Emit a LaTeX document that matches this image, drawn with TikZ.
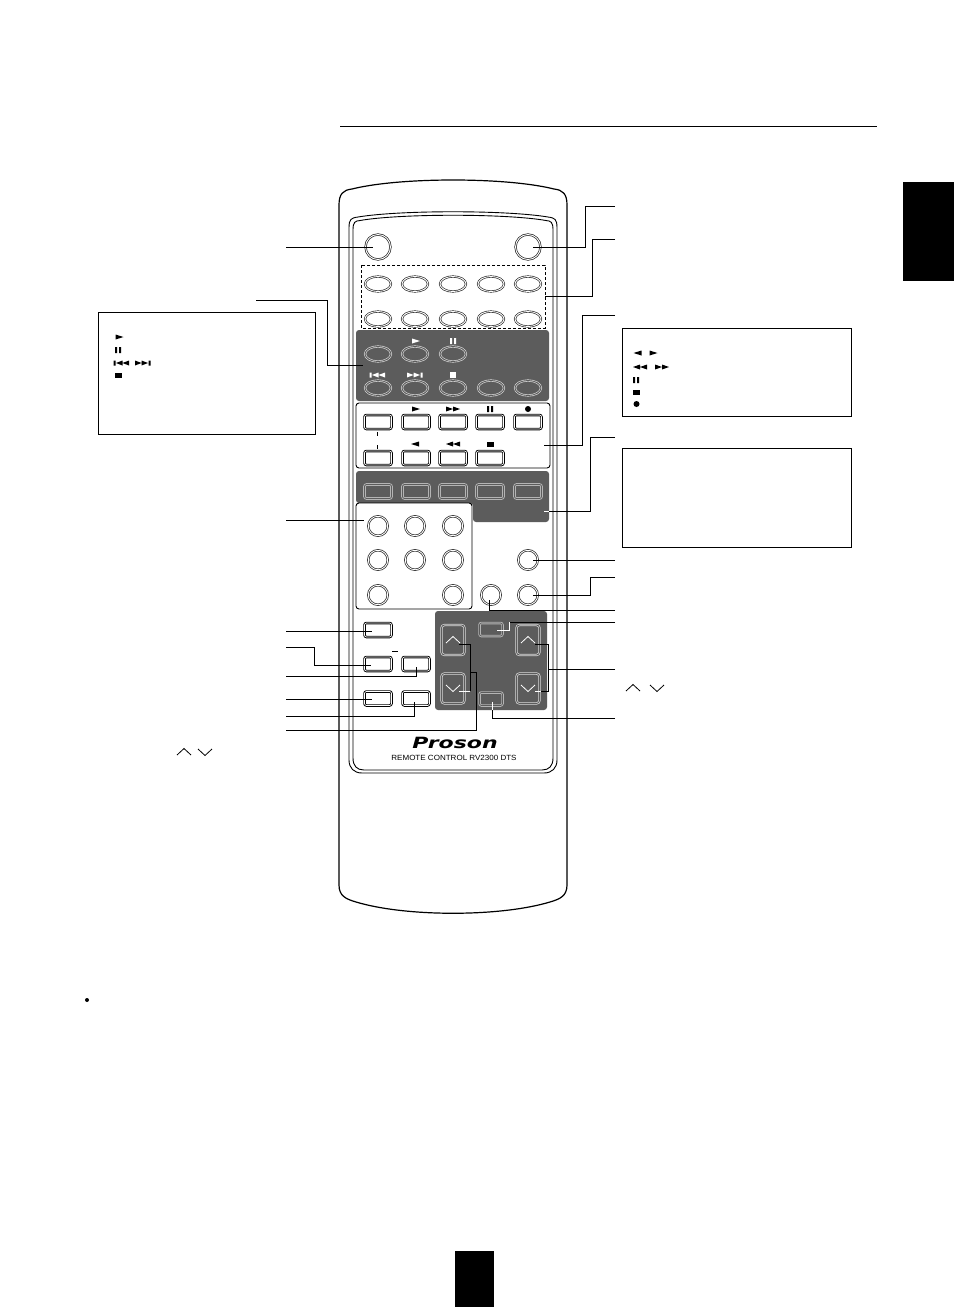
\documentclass[tikz,border=0pt]{standalone}
\usepackage{fontspec}
\setmainfont{Liberation Sans}
\newfontfamily\logofont{DejaVu Sans}
\definecolor{panel}{HTML}{5C5C5C}
\definecolor{bgray}{HTML}{B4B4B4}
\usetikzlibrary{shapes.geometric}
\tikzset{
  x=1pt,y=-1pt,
  shell/.style={draw=black,line width=1.2pt,fill=white},
  leader/.style={draw=black,line width=1pt},
  leaderw/.style={draw=white,line width=1pt},
  darkpanel/.style={fill=panel,draw=none,rounded corners=3pt},
  whitepanel/.style={fill=white,draw=black,line width=0.9pt,rounded corners=3pt},
  infobox/.style={draw=black,line width=0.9pt,fill=white},
  ovalk/.style={ellipse,draw=black!85,line width=0.65pt,double=white,double distance=0.9pt,minimum width=26pt,minimum height=15pt,inner sep=0pt},
  ovalw/.style={ellipse,draw=white!85!black,line width=0.65pt,double=panel,double distance=0.9pt,minimum width=26pt,minimum height=15pt,inner sep=0pt},
  roundb/.style={circle,draw=black!85,line width=0.7pt,double=white,double distance=0.9pt,minimum size=#1,inner sep=0pt},
  rectb/.style={rectangle,rounded corners=2pt,draw=black,line width=0.9pt,double=white,double distance=0.7pt,minimum width=27pt,minimum height=14pt,inner sep=0pt},
  rectw/.style={rectangle,rounded corners=2pt,draw=bgray,line width=0.9pt,double=panel,double distance=0.8pt,minimum width=27pt,minimum height=14pt,inner sep=0pt},
  arrowb/.style={rectangle,rounded corners=3pt,draw=white!85!black,line width=0.7pt,double=panel,double distance=0.9pt,minimum width=23pt,minimum height=30pt,inner sep=0pt},
  smallb/.style={rectangle,rounded corners=2pt,draw=bgray,line width=0.9pt,double=panel,double distance=0.7pt,minimum width=23pt,minimum height=13pt,inner sep=0pt},
  chev/.style={draw=#1,line width=0.8pt},
}
\newcommand{\symPlay}[3]{\fill[#3] (#1-4,#2-2.5) -- (#1+4,#2) -- (#1-4,#2+2.5) -- cycle;}
\newcommand{\symRew}[3]{\fill[#3] (#1+4,#2-2.5) -- (#1-4,#2) -- (#1+4,#2+2.5) -- cycle;}
\newcommand{\symFF}[3]{\fill[#3] (#1-7,#2-2.5) -- (#1,#2) -- (#1-7,#2+2.5) -- cycle (#1,#2-2.5) -- (#1+7,#2) -- (#1,#2+2.5) -- cycle;}
\newcommand{\symFR}[3]{\fill[#3] (#1+7,#2-2.5) -- (#1,#2) -- (#1+7,#2+2.5) -- cycle (#1,#2-2.5) -- (#1-7,#2) -- (#1,#2+2.5) -- cycle;}
\newcommand{\symPause}[3]{\fill[#3] (#1-3,#2-3) rectangle (#1-1,#2+3) (#1+1,#2-3) rectangle (#1+3,#2+3);}
\newcommand{\symStop}[3]{\fill[#3] (#1-3,#2-3) rectangle (#1+3,#2+3);}
\newcommand{\symStopW}[3]{\fill[#3] (#1-3.5,#2-2.5) rectangle (#1+3.5,#2+2.5);}
\newcommand{\symNext}[3]{\fill[#3] (#1-8,#2-2.5) -- (#1-1.5,#2) -- (#1-8,#2+2.5) -- cycle (#1-1.5,#2-2.5) -- (#1+5,#2) -- (#1-1.5,#2+2.5) -- cycle (#1+5.5,#2-2.5) rectangle (#1+7.5,#2+2.5);}
\newcommand{\symPrev}[3]{\fill[#3] (#1+8,#2-2.5) -- (#1+1.5,#2) -- (#1+8,#2+2.5) -- cycle (#1+1.5,#2-2.5) -- (#1-5,#2) -- (#1+1.5,#2+2.5) -- cycle (#1-5.5,#2-2.5) rectangle (#1-7.5,#2+2.5);}
\newcommand{\chUp}[3]{\draw[chev=#3] (#1-7,#2+3) -- (#1,#2-3.5) -- (#1+7,#2+3);}
\newcommand{\chDn}[3]{\draw[chev=#3] (#1-7,#2-3) -- (#1,#2+3.5) -- (#1+7,#2-3);}
\begin{document}
\begin{tikzpicture}
\useasboundingbox (0,0) rectangle (954,1307);
% page furniture
\fill[black] (903,182) rectangle (954,281);
\fill[black] (455,1251) rectangle (494,1307);
\draw[line width=1pt] (340,126) -- (877,126);
\fill[black] (87,1000) circle (2);
% shell
\path[shell] (339,205) .. controls (339,194) and (343,190) .. (352,189)
  .. controls (400,177) and (506,177) .. (554,189)
  .. controls (563,190) and (567,194) .. (567,205)
  -- (567,885) .. controls (567,896) and (560,899) .. (550,902)
  .. controls (500,917) and (406,917) .. (356,902)
  .. controls (346,899) and (339,896) .. (339,885) -- cycle;
\path[shell,line width=0.9pt] (349,228) .. controls (349,219) and (351,218) .. (358,217)
  .. controls (400,210) and (506,210) .. (548,217)
  .. controls (555,218) and (557,219) .. (557,228)
  -- (557,760) .. controls (557,768) and (552,773) .. (544,773)
  -- (362,773) .. controls (354,773) and (349,768) .. (349,760) -- cycle;
\path[draw=black,line width=0.9pt] (353,230) .. controls (353,222) and (355,221) .. (360,220.5)
  .. controls (400,213.5) and (506,213.5) .. (546,220.5)
  .. controls (551,221) and (553,222) .. (553,230)
  -- (553,758) .. controls (553,766) and (549,770) .. (542,770)
  -- (364,770) .. controls (357,770) and (353,766) .. (353,758) -- cycle;
% dashed group
\draw[black,line width=0.8pt,dash pattern=on 3pt off 2pt] (361,265) rectangle (545,328);
% panels
\fill[darkpanel] (356,330) rectangle (549,401);
\path[whitepanel] (356,403) rectangle (550,468);
\fill[panel,rounded corners=3pt] (356,471) -- (549,471) -- (549,522) -- (473,522) -- (473,503) -- (356,503) -- cycle;
\path[whitepanel] (356,503) rectangle (472,609);
\fill[darkpanel] (435,611) rectangle (547,710);
% round buttons
\node[roundb=25pt] (power1) at (378,247) {};
\node[roundb=25pt] (power2) at (528,247) {};
% oval buttons
\foreach \n/\x in {a/378,b/415,c/453,d/491,e/528}{
  \node[ovalk] (o1\n) at (\x,284) {};
  \node[ovalk] (o2\n) at (\x,319) {};
}
\foreach \n/\x in {a/378,b/415,c/453}{
  \node[ovalw] (o3\n) at (\x,354) {};
}
\foreach \n/\x in {a/378,b/415,c/453,d/491,e/528}{
  \node[ovalw] (o4\n) at (\x,388) {};
}
\symPlay{416}{341}{white}
\symPause{453}{341}{white}
\symPrev{377}{375}{white}
\symNext{415}{375}{white}
\symStop{453}{375}{white}
% rect buttons white panel
\foreach \n/\x in {a/378,b/416,c/453,d/490,e/528}{
  \node[rectb] (r1\n) at (\x,422) {};
}
\foreach \n/\x in {a/378,b/416,c/453,d/490}{
  \node[rectb] (r2\n) at (\x,458) {};
}
\symPlay{416}{409}{black}
\symFF{453}{409}{black}
\symPause{490}{409}{black}
\fill[black] (528,409) circle (3);
\symRew{415}{444}{black}
\symFR{453}{444}{black}
\symStopW{490}{444}{black}
\draw[black,line width=0.8pt] (377,432) -- (377,436) (377,445) -- (377,449);
% rect buttons dark
\foreach \n/\x in {a/378,b/416,c/453,d/490,e/528}{
  \node[rectw] (r3\n) at (\x,491.5) {};
}
% number circles
\foreach \n/\x/\y in {a/378/526,b/415/526,c/453/526,d/378/560,e/415/560,f/453/560,g/378/595,h/453/595,i/528/560,j/528/595,k/491/595}{
  \node[roundb=19.5pt] (c\n) at (\x,\y) {};
}
% lower left rects
\foreach \n/\x/\y in {a/378/630,b/378/664,c/416/664,d/378/698.5,e/416/698.5}{
  \node[rectb] (l\n) at (\x,\y) {};
}
\draw[black,line width=0.8pt] (392,651) -- (398,651);
% dark nav panel
\foreach \n/\x in {a/453,b/528}{
  \node[arrowb] (u\n) at (\x,640) {};
  \node[arrowb] (d\n) at (\x,688.5) {};
}
\chUp{453}{640}{white}\chDn{453}{688}{white}
\chUp{528}{640}{white}\chDn{528}{688}{white}
\node[smallb] (nt) at (491,629.5) {};
\node[smallb] (nb) at (491,699) {};
% logo
\node[font=\logofont\bfseries\itshape\fontsize{15.5}{16}\selectfont,inner sep=0pt,xscale=1.42] (logo) at (455,742.5) {Proson};
\node[font=\fontsize{7.5}{8}\selectfont,inner sep=0pt,xscale=1.07] (rc) at (454,758) {REMOTE CONTROL RV2300 DTS};
% info boxes
\node[infobox,minimum width=217pt,minimum height=122pt,inner sep=0pt] (boxL) at (206.5,373) {};
\node[infobox,minimum width=229pt,minimum height=88pt,inner sep=0pt] (boxR1) at (736.5,372) {};
\node[infobox,minimum width=229pt,minimum height=99pt,inner sep=0pt] (boxR2) at (736.5,497.5) {};
\symPlay{119.5}{337}{black}
\symPause{118}{350}{black}
\symPrev{121}{363}{black}
\symNext{143}{363}{black}
\symStopW{118.5}{375}{black}
\symRew{637.5}{353}{black}
\symPlay{653.5}{353}{black}
\symFR{640}{367}{black}
\symFF{662}{367}{black}
\symPause{636}{380}{black}
\symStopW{636.5}{392}{black}
\fill[black] (636.5,404) circle (3);
\chUp{184}{752}{black}\chDn{205}{752}{black}
\chUp{633}{688}{black}\chDn{657}{688}{black}
% free ends
\foreach \n/\x/\y in {La/286/247,Lb/256/300,Lc/286/520,Ld/286/631,Le/286/647,Lf/286/676,Lg/286/699,Lh/286/716,Li/286/730,
  Ra/615/206,Rb/615/239,Rc/615/315,Rd/615/437,Re/615/560,Rf/615/577,Rg/615/610,Rh/615/622,Ri/615/669,Rj/615/718}{
  \coordinate (\n) at (\x,\y);
}
\coordinate (t1) at (363,365);
\coordinate (t2) at (364,520);
% left leaders
\draw[leader] (La) -- ([xshift=-5pt]power1.center);
\draw[leader] (Lb) -- (327,300) -- (327,365) -- (t1);
\draw[leader] (Lc) -- (t2);
\draw[leader] (Ld) -- ([xshift=-6pt]la.center |- Ld);
\draw[leader] (Le) -- (314,647) -- (314,665) -- (371,665);
\draw[leader] (Lf) -- (416.5,676) -- (416.5,667);
\draw[leader] (Lg) -- (372,699);
\draw[leader] (Lh) -- (414,716) -- (414,702);
\draw[leader] (Li) -- (476,730) -- (476,672) -- (470,672);
% bracket left
\draw[leader] (459,644) -- (470,644) -- (470,691);
\draw[leaderw] (470,691) -- (459,691);
% right leaders
\draw[leader] (Ra) -- (585,206) -- (585,247) -- ([xshift=5pt]power2.center);
\draw[leader] (Rb) -- (592,239) -- (592,296) -- (545,296);
\draw[leader] (Rc) -- (582,315) -- (582,445) -- (544,445);
\draw[leader] (Rd) -- (590,437) -- (590,511) -- (549,511);
\draw[leaderw] (549,511) -- (544,511);
\draw[leader] (Re) -- ([xshift=5pt]ci.center);
\draw[leader] (Rf) -- (590,577) -- (590,595) -- ([xshift=5pt]cj.center);
\draw[leader] (Rg) -- (489,610) -- (489,600);
\draw[leader] (Rh) -- (509,622);
\draw[leaderw] (509,622) -- (509,630) -- (497,630);
\draw[leader] (535,644) -- (548,644) -- (548,691) -- (541,691);
\draw[leaderw] (541,691) -- (535,691);
\draw[leader] (Ri) -- (548,669);
\draw[leader] (Rj) -- (492.5,718) -- (492.5,710);
\draw[leaderw] (492.5,710) -- (492.5,702);
\end{tikzpicture}
\end{document}
